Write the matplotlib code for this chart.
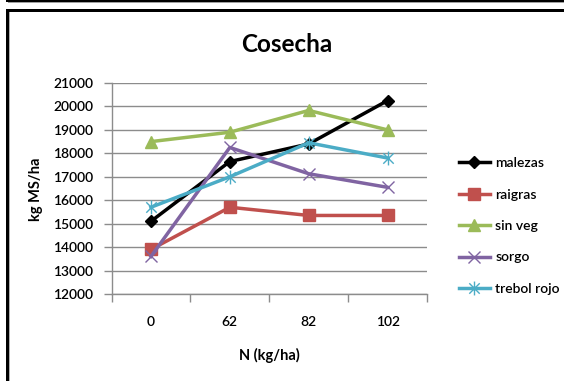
import matplotlib
matplotlib.use("Agg")
import matplotlib.pyplot as plt
from matplotlib.path import Path
from matplotlib.patches import Rectangle

plt.rcParams['font.family'] = ['Lato', 'DejaVu Sans']

# Nitrogen doses (categories) and dry-matter yield per treatment
categories = ["0", "62", "82", "102"]
malezas = [15100, 17650, 18400, 20250]
raigras = [13900, 15700, 15350, 15350]
sin_veg = [18500, 18900, 19830, 19000]
sorgo = [13600, 18250, 17130, 16550]
trebol_rojo = [15700, 17000, 18450, 17800]

series_names = ["malezas", "raigras", "sin veg", "sorgo", "trebol rojo"]
yticks = list(range(12000, 21001, 1000))

# Excel-style asterisk marker: vertical bar plus an X
star_path = Path(
    [(0, -1), (0, 1), (-0.75, -0.75), (0.75, 0.75), (-0.75, 0.75), (0.75, -0.75)],
    [Path.MOVETO, Path.LINETO, Path.MOVETO, Path.LINETO, Path.MOVETO, Path.LINETO],
)

W, H = 564, 381
fig = plt.figure(figsize=(W / 100, H / 100), dpi=100)
fig.patch.set_facecolor("white")


def fx(px):
    return px / W


def fy(py):
    return 1 - py / H


ax = fig.add_axes([fx(111.5), fy(294), fx(427) - fx(111.5), fy(83) - fy(294)])
x = list(range(len(categories)))

styles = [
    (malezas, "#000000", dict(marker="D", markersize=6, markerfacecolor="#000000", markeredgecolor="#000000")),
    (raigras, "#C0504D", dict(marker="s", markersize=8.5, markerfacecolor="#C0504D", markeredgecolor="#C0504D")),
    (sin_veg, "#9BBB59", dict(marker="^", markersize=9, markerfacecolor="#9BBB59", markeredgecolor="#9BBB59")),
    (sorgo, "#8064A2", dict(marker="x", markersize=9, markeredgewidth=1.0, markeredgecolor="#8064A2")),
    (trebol_rojo, "#4BACC6", dict(marker=star_path, markersize=10, markeredgewidth=1.0, markeredgecolor="#4BACC6")),
]

handles = []
for (vals, col, mk), name in zip(styles, series_names):
    (ln,) = ax.plot(x, vals, color=col, linewidth=2.5, label=name, zorder=3, **mk)
    handles.append(ln)

ax.set_xlim(-0.5, len(categories) - 0.5)
ax.set_ylim(12000, 21000)
ax.set_yticks(yticks)
ax.set_yticklabels([str(v) for v in yticks])
ax.set_xticks(x)
ax.set_xticklabels(categories)
ax.yaxis.grid(True, color="#8C8C8C", linewidth=1.0)
ax.set_axisbelow(True)
for s in ["top", "right"]:
    ax.spines[s].set_visible(False)
for s in ["left", "bottom"]:
    ax.spines[s].set_color("#8C8C8C")
    ax.spines[s].set_linewidth(1.0)

# category tick marks sit between categories, as on a category axis
ax.set_xticks([i + 0.5 for i in range(-1, len(categories))], minor=True)
ax.tick_params(axis="x", which="major", length=0, pad=16, labelsize=10)
ax.tick_params(axis="x", which="minor", length=6, color="#8C8C8C", width=1.0)
ax.tick_params(axis="y", length=6, color="#8C8C8C", width=1.0, pad=7, labelsize=10)
for lbl in ax.get_xticklabels() + ax.get_yticklabels():
    lbl.set_fontweight("semibold")
    lbl.set_color("#000000")

fig.text(fx(287), fy(44), "Cosecha", ha="center", va="center",
         fontsize=17.5, fontweight="bold", color="#000000")
fig.text(fx(269), fy(355), "N (kg/ha)", ha="center", va="center",
         fontsize=10.5, fontweight="bold", color="#000000")
fig.text(fx(36), fy(189), "kg MS/ha", ha="center", va="center", rotation=90,
         fontsize=10.5, fontweight="bold", color="#000000")

leg = fig.legend(handles=handles, loc="center left",
                 bbox_to_anchor=(fx(446), fy(226)), frameon=False,
                 handlelength=2.3, handletextpad=0.35, labelspacing=1.4,
                 borderpad=0.4, prop=dict(size=10, weight="semibold"))

# surrounding worksheet frame lines
fig.add_artist(Rectangle((fx(8), fy(1.5)), 1, 1.5 / H, transform=fig.transFigure,
                         color="black", lw=0))
fig.add_artist(Rectangle((fx(8), fy(3.3)), 1, 1.0 / H, transform=fig.transFigure,
                         color="#A0A0A0", lw=0))
fig.add_artist(Rectangle((fx(6), fy(2)), 3 / W, 2 / H, transform=fig.transFigure,
                         color="black", lw=0))
fig.add_artist(Rectangle((fx(6), fy(12)), 1, 3 / H, transform=fig.transFigure,
                         color="black", lw=0))
fig.add_artist(Rectangle((fx(6), 0), 3 / W, fy(9), transform=fig.transFigure,
                         color="black", lw=0))
fig.add_artist(Rectangle((fx(9), 0), 1 / W, fy(12), transform=fig.transFigure,
                         color="#B0B0B0", lw=0))

fig.savefig("out.png", dpi=100, facecolor="white")
